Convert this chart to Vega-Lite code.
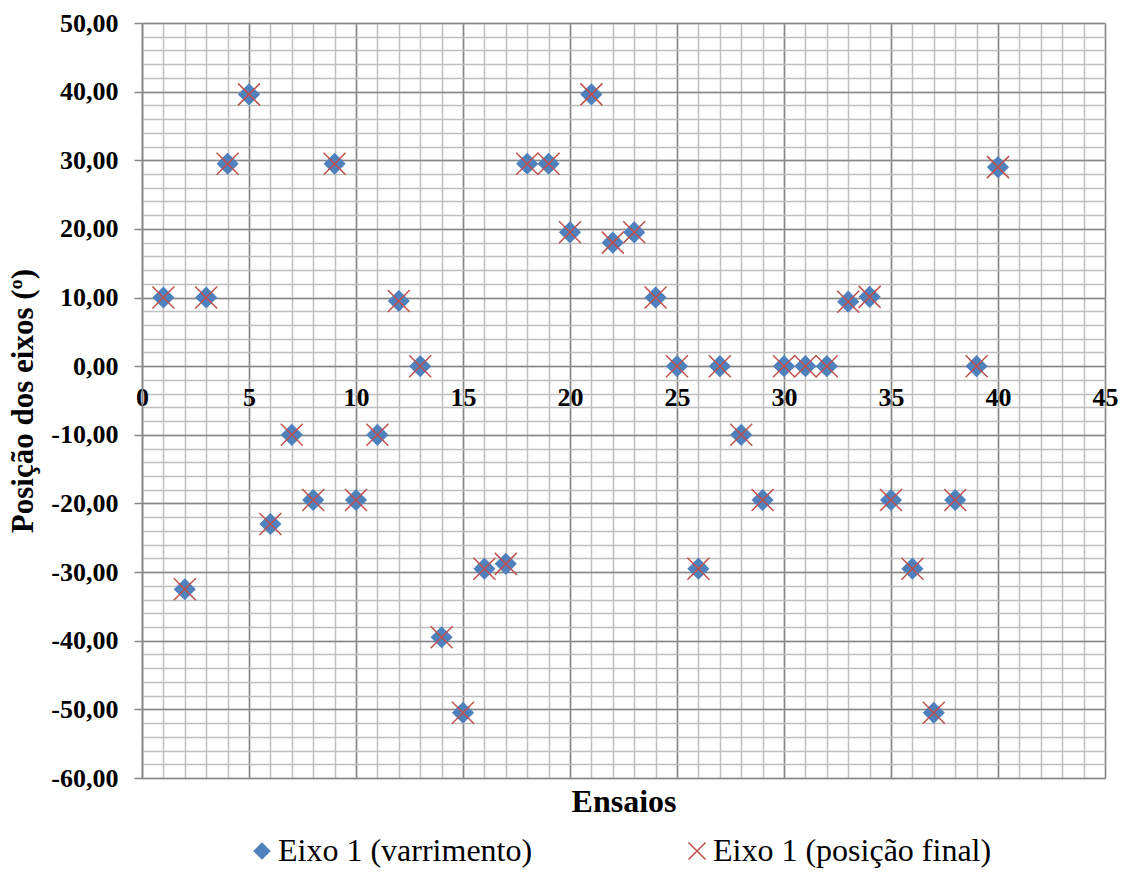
{
  "$schema": "https://vega.github.io/schema/vega-lite/v6.json",
  "width": 963,
  "height": 755,
  "autosize": {"type": "none"},
  "padding": {"left": 142, "top": 23, "right": 18, "bottom": 115},
  "background": "white",
  "config": {
    "font": "Liberation Serif",
    "view": {"stroke": null},
    "axis": {
      "labelFont": "Liberation Serif",
      "titleFont": "Liberation Serif",
      "labelFontWeight": "bold",
      "titleFontWeight": "bold",
      "labelColor": "black",
      "titleColor": "black",
      "labelFlush": false,
      "labelOverlap": false
    },
    "legend": {
      "orient": "none",
      "legendX": 104,
      "legendY": 812,
      "direction": "horizontal",
      "labelFont": "Liberation Serif",
      "labelFontSize": 32,
      "labelColor": "black",
      "labelLimit": 0,
      "symbolSize": 240,
      "symbolStrokeWidth": 1.5,
      "columnPadding": 148,
      "labelOffset": 0
    }
  },
  "data": {
    "values": [
      {"Ensaio": 1, "Serie": "Eixo 1 (varrimento)", "Posicao": 10},
      {"Ensaio": 2, "Serie": "Eixo 1 (varrimento)", "Posicao": -32.5},
      {"Ensaio": 3, "Serie": "Eixo 1 (varrimento)", "Posicao": 10},
      {"Ensaio": 4, "Serie": "Eixo 1 (varrimento)", "Posicao": 29.5},
      {"Ensaio": 5, "Serie": "Eixo 1 (varrimento)", "Posicao": 39.6},
      {"Ensaio": 6, "Serie": "Eixo 1 (varrimento)", "Posicao": -23},
      {"Ensaio": 7, "Serie": "Eixo 1 (varrimento)", "Posicao": -10},
      {"Ensaio": 8, "Serie": "Eixo 1 (varrimento)", "Posicao": -19.5},
      {"Ensaio": 9, "Serie": "Eixo 1 (varrimento)", "Posicao": 29.5},
      {"Ensaio": 10, "Serie": "Eixo 1 (varrimento)", "Posicao": -19.5},
      {"Ensaio": 11, "Serie": "Eixo 1 (varrimento)", "Posicao": -10},
      {"Ensaio": 12, "Serie": "Eixo 1 (varrimento)", "Posicao": 9.5},
      {"Ensaio": 13, "Serie": "Eixo 1 (varrimento)", "Posicao": 0},
      {"Ensaio": 14, "Serie": "Eixo 1 (varrimento)", "Posicao": -39.5},
      {"Ensaio": 15, "Serie": "Eixo 1 (varrimento)", "Posicao": -50.5},
      {"Ensaio": 16, "Serie": "Eixo 1 (varrimento)", "Posicao": -29.5},
      {"Ensaio": 17, "Serie": "Eixo 1 (varrimento)", "Posicao": -28.8},
      {"Ensaio": 18, "Serie": "Eixo 1 (varrimento)", "Posicao": 29.5},
      {"Ensaio": 19, "Serie": "Eixo 1 (varrimento)", "Posicao": 29.5},
      {"Ensaio": 20, "Serie": "Eixo 1 (varrimento)", "Posicao": 19.5},
      {"Ensaio": 21, "Serie": "Eixo 1 (varrimento)", "Posicao": 39.6},
      {"Ensaio": 22, "Serie": "Eixo 1 (varrimento)", "Posicao": 18},
      {"Ensaio": 23, "Serie": "Eixo 1 (varrimento)", "Posicao": 19.5},
      {"Ensaio": 24, "Serie": "Eixo 1 (varrimento)", "Posicao": 10},
      {"Ensaio": 25, "Serie": "Eixo 1 (varrimento)", "Posicao": 0},
      {"Ensaio": 26, "Serie": "Eixo 1 (varrimento)", "Posicao": -29.5},
      {"Ensaio": 27, "Serie": "Eixo 1 (varrimento)", "Posicao": 0},
      {"Ensaio": 28, "Serie": "Eixo 1 (varrimento)", "Posicao": -10},
      {"Ensaio": 29, "Serie": "Eixo 1 (varrimento)", "Posicao": -19.5},
      {"Ensaio": 30, "Serie": "Eixo 1 (varrimento)", "Posicao": 0},
      {"Ensaio": 31, "Serie": "Eixo 1 (varrimento)", "Posicao": 0},
      {"Ensaio": 32, "Serie": "Eixo 1 (varrimento)", "Posicao": 0},
      {"Ensaio": 33, "Serie": "Eixo 1 (varrimento)", "Posicao": 9.4},
      {"Ensaio": 34, "Serie": "Eixo 1 (varrimento)", "Posicao": 10.1},
      {"Ensaio": 35, "Serie": "Eixo 1 (varrimento)", "Posicao": -19.5},
      {"Ensaio": 36, "Serie": "Eixo 1 (varrimento)", "Posicao": -29.5},
      {"Ensaio": 37, "Serie": "Eixo 1 (varrimento)", "Posicao": -50.5},
      {"Ensaio": 38, "Serie": "Eixo 1 (varrimento)", "Posicao": -19.5},
      {"Ensaio": 39, "Serie": "Eixo 1 (varrimento)", "Posicao": 0},
      {"Ensaio": 40, "Serie": "Eixo 1 (varrimento)", "Posicao": 29},
      {"Ensaio": 1, "Serie": "Eixo 1 (posição final)", "Posicao": 10},
      {"Ensaio": 2, "Serie": "Eixo 1 (posição final)", "Posicao": -32.5},
      {"Ensaio": 3, "Serie": "Eixo 1 (posição final)", "Posicao": 10},
      {"Ensaio": 4, "Serie": "Eixo 1 (posição final)", "Posicao": 29.5},
      {"Ensaio": 5, "Serie": "Eixo 1 (posição final)", "Posicao": 39.6},
      {"Ensaio": 6, "Serie": "Eixo 1 (posição final)", "Posicao": -23},
      {"Ensaio": 7, "Serie": "Eixo 1 (posição final)", "Posicao": -10},
      {"Ensaio": 8, "Serie": "Eixo 1 (posição final)", "Posicao": -19.5},
      {"Ensaio": 9, "Serie": "Eixo 1 (posição final)", "Posicao": 29.5},
      {"Ensaio": 10, "Serie": "Eixo 1 (posição final)", "Posicao": -19.5},
      {"Ensaio": 11, "Serie": "Eixo 1 (posição final)", "Posicao": -10},
      {"Ensaio": 12, "Serie": "Eixo 1 (posição final)", "Posicao": 9.5},
      {"Ensaio": 13, "Serie": "Eixo 1 (posição final)", "Posicao": 0},
      {"Ensaio": 14, "Serie": "Eixo 1 (posição final)", "Posicao": -39.5},
      {"Ensaio": 15, "Serie": "Eixo 1 (posição final)", "Posicao": -50.5},
      {"Ensaio": 16, "Serie": "Eixo 1 (posição final)", "Posicao": -29.5},
      {"Ensaio": 17, "Serie": "Eixo 1 (posição final)", "Posicao": -28.8},
      {"Ensaio": 18, "Serie": "Eixo 1 (posição final)", "Posicao": 29.5},
      {"Ensaio": 19, "Serie": "Eixo 1 (posição final)", "Posicao": 29.5},
      {"Ensaio": 20, "Serie": "Eixo 1 (posição final)", "Posicao": 19.5},
      {"Ensaio": 21, "Serie": "Eixo 1 (posição final)", "Posicao": 39.6},
      {"Ensaio": 22, "Serie": "Eixo 1 (posição final)", "Posicao": 18},
      {"Ensaio": 23, "Serie": "Eixo 1 (posição final)", "Posicao": 19.5},
      {"Ensaio": 24, "Serie": "Eixo 1 (posição final)", "Posicao": 10},
      {"Ensaio": 25, "Serie": "Eixo 1 (posição final)", "Posicao": 0},
      {"Ensaio": 26, "Serie": "Eixo 1 (posição final)", "Posicao": -29.5},
      {"Ensaio": 27, "Serie": "Eixo 1 (posição final)", "Posicao": 0},
      {"Ensaio": 28, "Serie": "Eixo 1 (posição final)", "Posicao": -10},
      {"Ensaio": 29, "Serie": "Eixo 1 (posição final)", "Posicao": -19.5},
      {"Ensaio": 30, "Serie": "Eixo 1 (posição final)", "Posicao": 0},
      {"Ensaio": 31, "Serie": "Eixo 1 (posição final)", "Posicao": 0},
      {"Ensaio": 32, "Serie": "Eixo 1 (posição final)", "Posicao": 0},
      {"Ensaio": 33, "Serie": "Eixo 1 (posição final)", "Posicao": 9.4},
      {"Ensaio": 34, "Serie": "Eixo 1 (posição final)", "Posicao": 10.1},
      {"Ensaio": 35, "Serie": "Eixo 1 (posição final)", "Posicao": -19.5},
      {"Ensaio": 36, "Serie": "Eixo 1 (posição final)", "Posicao": -29.5},
      {"Ensaio": 37, "Serie": "Eixo 1 (posição final)", "Posicao": -50.5},
      {"Ensaio": 38, "Serie": "Eixo 1 (posição final)", "Posicao": -19.5},
      {"Ensaio": 39, "Serie": "Eixo 1 (posição final)", "Posicao": 0},
      {"Ensaio": 40, "Serie": "Eixo 1 (posição final)", "Posicao": 29}
    ]
  },
  "layer": [
    {
      "mark": {"type": "point", "opacity": 0},
      "encoding": {
        "x": {"field": "Ensaio", "type": "quantitative", "scale": {"domain": [0, 45], "nice": false, "zero": false},
          "axis": {"orient": "bottom", "tickCount": 45, "grid": true, "gridColor": "#BFBFBF", "gridWidth": 1.5, "labels": false, "ticks": false, "domain": false, "title": null}},
        "y": {"field": "Posicao", "type": "quantitative", "scale": {"domain": [-60, 50], "nice": false, "zero": false},
          "axis": {"orient": "left", "tickCount": 55, "grid": true, "gridColor": "#BFBFBF", "gridWidth": 1.5, "labels": false, "ticks": false, "domain": false, "title": null}}
      }
    },
    {
      "mark": {"type": "point", "opacity": 0},
      "encoding": {
        "x": {"field": "Ensaio", "type": "quantitative", "scale": {"domain": [0, 45], "nice": false, "zero": false},
          "axis": {"orient": "bottom", "tickCount": 9, "grid": true, "gridColor": "#878787", "gridWidth": 1.5, "labels": false, "ticks": false, "domain": false, "title": null}},
        "y": {"field": "Posicao", "type": "quantitative", "scale": {"domain": [-60, 50], "nice": false, "zero": false},
          "axis": {"orient": "left", "tickCount": 11, "grid": true, "gridColor": "#878787", "gridWidth": 1.5,
            "labelExpr": "replace(replace(format(datum.value, '.2f'), '.', ','), '\u2212', '-')",
            "labelFontSize": 26, "labelPadding": 16, "ticks": true, "tickSize": 8, "tickColor": "#878787", "tickWidth": 1.5,
            "domain": true, "domainColor": "#878787", "domainWidth": 1.5,
            "title": "Posição dos eixos (º)", "titleFontSize": 31, "titlePadding": 11}}
      }
    },
    {
      "mark": {"type": "point", "opacity": 0},
      "encoding": {
        "x": {"field": "Ensaio", "type": "quantitative", "scale": {"domain": [0, 45], "nice": false, "zero": false},
          "axis": {"orient": "bottom", "offset": -411.82, "tickCount": 9, "grid": false, "labels": true, "labelFontSize": 26, "labelPadding": 18, "ticks": false, "tickSize": 0, "domain": false, "title": null}},
        "y": {"field": "Posicao", "type": "quantitative", "scale": {"domain": [-60, 50], "nice": false, "zero": false}, "axis": null}
      }
    },
    {
      "mark": {"type": "point", "opacity": 1, "strokeWidth": 1.5, "size": 400},
      "encoding": {
        "x": {"field": "Ensaio", "type": "quantitative", "scale": {"domain": [0, 45], "nice": false, "zero": false},
          "axis": {"orient": "bottom", "grid": false, "labels": false, "ticks": false, "domain": false, "title": "Ensaios", "titleFontSize": 32, "titlePadding": 8}},
        "y": {"field": "Posicao", "type": "quantitative", "scale": {"domain": [-60, 50], "nice": false, "zero": false}, "axis": null},
        "fill": {"field": "Serie", "type": "nominal", "scale": {"domain": ["Eixo 1 (varrimento)", "Eixo 1 (posição final)"], "range": ["#4F81BD", "transparent"]}, "legend": {"title": null, "orient": "none", "legendX": 104, "legendY": 812}},
        "stroke": {"field": "Serie", "type": "nominal", "scale": {"domain": ["Eixo 1 (varrimento)", "Eixo 1 (posição final)"], "range": ["#4F81BD", "#C0504D"]}, "legend": {"title": null, "orient": "none", "legendX": 104, "legendY": 812}},
        "shape": {"field": "Serie", "type": "nominal", "scale": {"domain": ["Eixo 1 (varrimento)", "Eixo 1 (posição final)"], "range": ["diamond", "M-1.1,-1.1L1.1,1.1M-1.1,1.1L1.1,-1.1"]}, "legend": {"title": null, "orient": "none", "legendX": 104, "legendY": 812}}
      }
    }
  ],
  "resolve": {"axis": {"x": "independent", "y": "independent"}}
}
